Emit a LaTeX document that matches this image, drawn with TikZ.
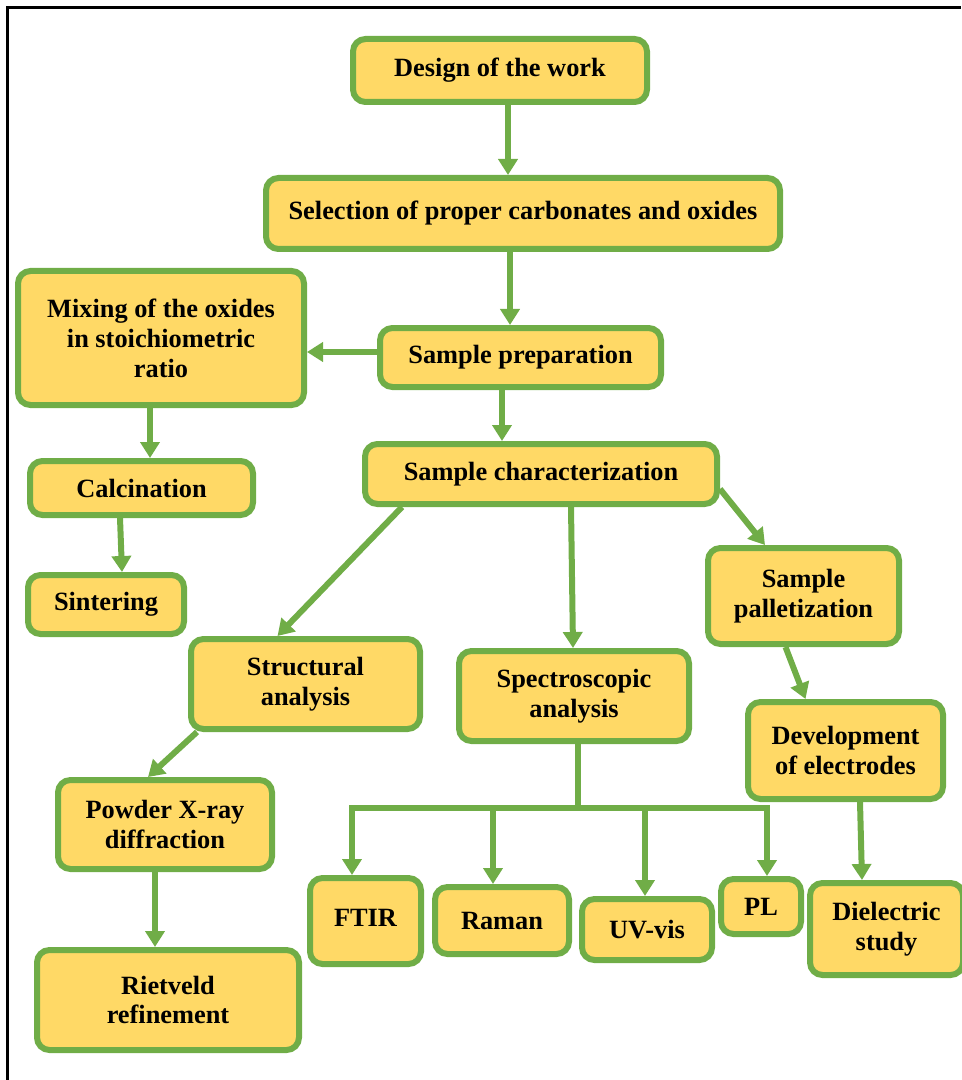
\documentclass[tikz,border=0pt]{standalone}
\usepackage{fontspec}
\setmainfont{Liberation Serif}
\usetikzlibrary{arrows.meta}
\definecolor{boxyellow}{RGB}{255,217,102}
\definecolor{boxgreen}{RGB}{112,173,71}

\begin{document}
\begin{tikzpicture}[
	box/.style={draw=boxgreen, fill=boxyellow, line width=0.12cm, rounded corners=0.25cm, align=center, inner sep=1pt, font=\bfseries\fontsize{15}{17}\selectfont},
	dims/.style 2 args={minimum width=#1cm, minimum height=#2cm},
	link/.style={draw=boxgreen, line width=0.12cm},
	arr/.style={link, -{Triangle[width=0.38cm, length=0.32cm]}}
]
	\useasboundingbox (0, 0) rectangle (19.22, -21.6);
	\draw[line width=0.06cm] (0.15, -21.6) -- (0.15, -0.15) -- (19.22, -0.15);

	\node[box, dims={5.88}{1.26}] (design)at(10.0, -1.41) {Design of the work};
	\node[box, dims={10.28}{1.42}] (select)at(10.46, -4.27) {\raisebox{0.08cm}{Selection of proper carbonates and oxides}};
	\node[box, dims={5.72}{2.68}] (mixing)at(3.22, -6.76) {Mixing of the oxides\\in stoichiometric\\ratio};
	\node[box, dims={5.62}{1.18}] (prep)at(10.41, -7.15) {Sample preparation};
	\node[box, dims={4.46}{1.08}] (calc)at(2.83, -9.76) {Calcination};
	\node[box, dims={3.12}{1.18}] (sinter)at(2.12, -12.09) {Sintering};
	\node[box, dims={7.04}{1.2}] (charac)at(10.82, -9.48) {Sample characterization};
	\node[box, dims={3.82}{1.92}] (pellet)at(16.07, -11.92) {Sample\\palletization};
	\node[box, dims={4.58}{1.8}] (struct)at(6.11, -13.68) {Structural\\analysis};
	\node[box, dims={4.6}{1.8}] (spectro)at(11.48, -13.92) {Spectroscopic\\analysis};
	\node[box, dims={4.28}{1.78}] (pxrd)at(3.30, -16.49) {Powder X-ray\\diffraction};
	\node[box, dims={5.24}{2.0}] (rietveld)at(3.36, -20.0) {Rietveld\\refinement};
	\node[box, dims={3.9}{1.94}] (electrode)at(16.91, -15.01) {Development\\of electrodes};
	\node[box, dims={2.22}{1.72}] (ftir)at(7.31, -18.42) {\raisebox{0.14cm}{FTIR}};
	\node[box, dims={2.68}{1.34}] (raman)at(10.04, -18.41) {Raman};
	\node[box, dims={2.6}{1.22}] (uvvis)at(12.94, -18.59) {UV-vis};
	\node[box, dims={1.6}{1.1}] (pl)at(15.22, -18.13) {PL};
	\node[box, dims={3.06}{1.84}] (dielec)at(17.73, -18.58) {Dielectric\\study};

	% main flow
	\draw[arr] ([xshift=0.16cm]design.south) -- ([xshift=0.16cm]design.south |- select.north);
	\draw[arr] ([xshift=-0.26cm]select.south) -- ([xshift=-0.26cm]select.south |- prep.north);
	\draw[arr] ([yshift=0.11cm]prep.west) -- ([yshift=0.11cm]prep.west -| mixing.east);
	\draw[arr] ([xshift=-0.22cm]mixing.south) -- ([xshift=-0.22cm]mixing.south |- calc.north);
	\draw[arr] ([xshift=-0.43cm]calc.south) -- ([xshift=0.32cm]sinter.north);
	\draw[arr] ([xshift=-0.37cm]prep.south) -- ([xshift=-0.37cm]prep.south |- charac.north);
	\draw[arr] ([xshift=0.8cm]charac.south west) -- ([xshift=-0.56cm]struct.north);
	\draw[arr] ([xshift=0.6cm]charac.south) -- ([xshift=-0.02cm]spectro.north);
	\draw[arr] ([yshift=-0.3cm]charac.east) -- ([xshift=-0.77cm]pellet.north);
	\draw[arr] ([xshift=-0.36cm]pellet.south) -- ([xshift=-0.8cm]electrode.north);
	\draw[arr] ([xshift=0.18cm]struct.south west) -- ([xshift=-0.34cm]pxrd.north);
	\draw[arr] ([xshift=-0.2cm]pxrd.south) -- ([xshift=-0.2cm]pxrd.south |- rietveld.north);
	\draw[arr] ([xshift=0.29cm]electrode.south) -- ([xshift=-0.49cm]dielec.north);

	% spectroscopy branches
	\coordinate (busL)at(7.04, -16.16);
	\coordinate (busR)at(15.34, -16.16);
	\draw[link] ([xshift=0.08cm]spectro.south) -- ([xshift=0.08cm]spectro.south |- busL);
	\draw[link, line cap=rect] (busL) -- (busR);
	\foreach \x/\n in {7.04/ftir, 9.86/raman, 12.9/uvvis, 15.34/pl} {
		\coordinate (b\n)at(\x, -16.16);
		\draw[arr] (b\n) -- (b\n |- \n.north);
	}
\end{tikzpicture}
\end{document}
